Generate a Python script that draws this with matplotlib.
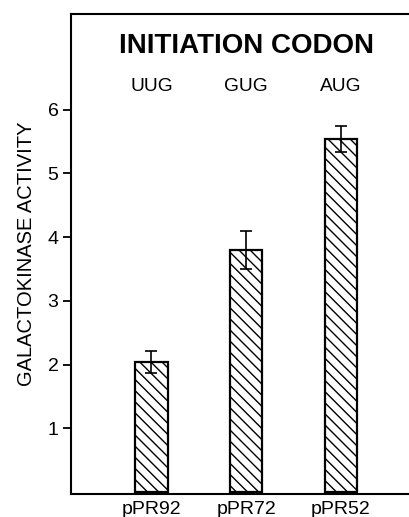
import matplotlib
matplotlib.use("Agg")
import matplotlib.pyplot as plt

plt.rcParams['font.family'] = ['Liberation Sans', 'DejaVu Sans']
plt.rcParams['hatch.linewidth'] = 1.0

plasmids = ["pPR92", "pPR72", "pPR52"]
codons = ["UUG", "GUG", "AUG"]
activity = [2.04, 3.80, 5.54]
errors = [0.17, 0.30, 0.20]
yticks = [1, 2, 3, 4, 5, 6]
title = "INITIATION CODON"
ylabel = "GALACTOKINASE ACTIVITY"

fig = plt.figure(figsize=(4.09, 5.17), dpi=100)
W, H = 409, 517
left, right, top, bottom = 71, 409, 14, 494
ax = fig.add_axes([left / W, 1 - bottom / H, (right - left) / W, (bottom - top) / H])

x = list(range(len(plasmids)))
ax.bar(x, activity, width=0.34, color="white", edgecolor="black",
       linewidth=1.6, hatch="\\" * 3, zorder=2)
ax.errorbar(x, activity, yerr=errors, fmt="none", ecolor="black",
            elinewidth=1.2, capsize=4, capthick=1.2, zorder=3)

ax.set_xlim(-0.85, 2.72)
ax.set_ylim(-0.03, 7.5)
ax.set_yticks(yticks)
ax.set_yticklabels([str(t) for t in yticks], fontsize=14)
ax.tick_params(axis="y", direction="out", length=6, width=1.3, pad=3)
ax.set_xticks(x)
ax.set_xticklabels(plasmids, fontsize=14)
ax.tick_params(axis="x", length=0, pad=5)

for s in ["left", "top", "bottom"]:
    ax.spines[s].set_linewidth(1.5)
ax.spines["right"].set_visible(False)

ax.set_ylabel(ylabel, fontsize=14.5, labelpad=8)

ax.text(0.5 * (x[0] + x[-1]), 7.0, title, fontsize=20, fontweight="bold",
        ha="center", va="center")
for xi, c in zip(x, codons):
    ax.text(xi, 6.37, c, fontsize=13.8, ha="center", va="center")

fig.savefig("out.png", dpi=100)
